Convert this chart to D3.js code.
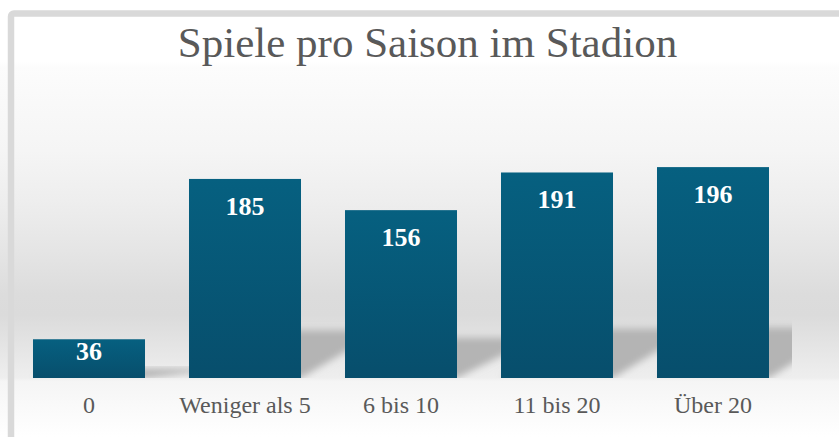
<!DOCTYPE html>
<html>
<head>
<meta charset="utf-8">
<script src="https://cdn.jsdelivr.net/npm/d3@7/dist/d3.min.js"></script>
<style>
html,body{margin:0;padding:0;background:#fff;overflow:hidden;}
svg{display:block;}
</style>
</head>
<body>
<svg id="chart" width="839" height="437"></svg>
<script>
// ---- data ----
const title = "Spiele pro Saison im Stadion";
const categories = ["0", "Weniger als 5", "6 bis 10", "11 bis 20", "Über 20"];
const values = [36, 185, 156, 191, 196];
const yDomain = [0, 250];

// ---- layout ----
const W = 839, H = 437;
const plot = {left: 11, right: 791, top: 109, bottom: 378};
const serif = "'Liberation Serif','Times New Roman',Times,serif";

const svg = d3.select("#chart");
const defs = svg.append("defs");

// background gradient
const bg = defs.append("linearGradient").attr("id","bg")
  .attr("gradientUnits","userSpaceOnUse").attr("x1",0).attr("y1",0).attr("x2",0).attr("y2",H);
[[0,"#ffffff"],[62,"#ffffff"],[68,"#fcfcfc"],[150,"#f5f5f5"],[200,"#eeeeee"],[250,"#e5e5e5"],
 [295,"#dcdcdc"],[315,"#dbdbdb"],[335,"#e1e1e1"],[370,"#ececec"],[378,"#eeeeee"],
 [381,"#f5f5f5"],[437,"#ffffff"]]
 .forEach(([y,c]) => bg.append("stop").attr("offset", y/H).attr("stop-color", c));

// bar gradient
const bgBar = defs.append("linearGradient").attr("id","barGrad")
  .attr("x1",0).attr("y1",0).attr("x2",0).attr("y2",1);
bgBar.append("stop").attr("offset",0).attr("stop-color","#066080");
bgBar.append("stop").attr("offset",1).attr("stop-color","#074e6c");

// shadow blur
defs.append("filter").attr("id","blur").attr("x","-20%").attr("y","-20%").attr("width","140%").attr("height","140%")
  .append("feGaussianBlur").attr("stdDeviation",3.5);

// shadow clip (plot floor region)
defs.append("clipPath").attr("id","plotClip").append("rect")
  .attr("x",plot.left).attr("y",0).attr("width",plot.right+1-plot.left).attr("height",plot.bottom);

svg.append("rect").attr("x",0).attr("y",0).attr("width",W).attr("height",H).attr("fill","url(#bg)");

// frame
svg.append("rect").attr("x",11).attr("y",13.5).attr("width",900).attr("height",520).attr("rx",3)
  .attr("fill","none").attr("stroke","#d9d9d9").attr("stroke-width",6.5);

// scales
const x = d3.scaleBand().domain(categories).range([plot.left, plot.right])
  .paddingInner(0.282).paddingOuter(0.141);
const y = d3.scaleLinear().domain(yDomain).range([plot.bottom, plot.top]);

const data = categories.map((c,i) => ({c, v: values[i]}));

// shadows
const shadowScale = 0.24, skew = 80;
svg.append("g").attr("clip-path","url(#plotClip)")
  .selectAll("path").data(data).join("path")
  .attr("d", d => {
    const x0 = x(d.c), x1 = x0 + x.bandwidth(), b = y(0);
    const h = (y(0) - y(d.v)) * shadowScale;
    return `M${x0},${b}L${x1},${b}L${x1+skew},${b-h}L${x0+skew},${b-h}Z`;
  })
  .attr("fill","#b4b4b4").attr("filter","url(#blur)");

// bars
svg.append("g").selectAll("rect").data(data).join("rect")
  .attr("x", d => x(d.c)).attr("y", d => y(d.v))
  .attr("width", x.bandwidth()).attr("height", d => y(0) - y(d.v))
  .attr("fill","url(#barGrad)");

// value labels
svg.append("g").selectAll("text").data(data).join("text")
  .attr("x", d => x(d.c) + x.bandwidth()/2)
  .attr("y", d => { const h = y(0) - y(d.v); return y(d.v) + (h > 60 ? 36 : 20.5); })
  .attr("text-anchor","middle").attr("font-family",serif).attr("font-weight","bold")
  .attr("font-size",26).attr("fill","#ffffff").text(d => d.v);

// category axis labels
const xAxis = d3.axisBottom(x).tickSize(0).tickPadding(0);
const ax = svg.append("g").attr("transform",`translate(0,${plot.bottom})`).call(xAxis);
ax.select(".domain").remove();
ax.selectAll("text").attr("y", 35).attr("dy", 0)
  .attr("font-family",serif).attr("font-size",24).attr("fill","#595959");

// title
svg.append("text").attr("x",427.5).attr("y",56.5).attr("text-anchor","middle")
  .attr("font-family",serif).attr("font-size",43).attr("fill","#595959").text(title);
</script>
</body>
</html>
